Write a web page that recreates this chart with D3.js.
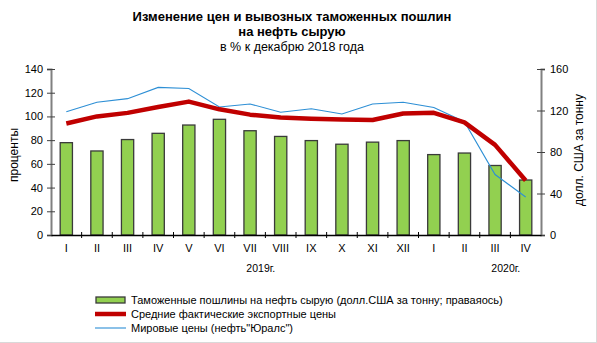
<!DOCTYPE html>
<html>
<head>
<meta charset="utf-8">
<script src="https://cdn.jsdelivr.net/npm/d3@7"></script>
<style>
  html, body { margin: 0; padding: 0; background: #fff; }
  svg { display: block; font-family: "Liberation Sans", Arial, sans-serif; }
</style>
</head>
<body>
<svg id="chart" width="597" height="343"></svg>
<script>
// Month labels (Jan 2019 – Apr 2020)
const months = ["I","II","III","IV","V","VI","VII","VIII","IX","X","XI","XII","I","II","III","IV"];
// Export duties, USD per tonne (right axis)
const duties = [89, 81, 92, 98, 106, 111.5, 100.5, 95, 91, 87.5, 89.5, 91, 77.5, 79, 67, 53];
// Average actual export prices, % of Dec 2018 (left axis)
const exportPrices = [94, 100, 103, 108, 112.5, 106, 101.5, 99, 98, 97.5, 97, 102.5, 103, 95, 76, 46];
// World prices (Urals), % of Dec 2018 (left axis)
const uralsPrices = [104, 112, 115, 124.5, 123.5, 108, 110.5, 103.5, 106.5, 102, 110.5, 112, 107.5, 95.5, 51, 32];
const leftTicks = [0, 20, 40, 60, 80, 100, 120, 140];
const rightTicks = [0, 40, 80, 120, 160];
const years = [{label: "2019г.", at: 6.85}, {label: "2020г.", at: 14.85}];

const svg = d3.select("#chart");
const plotLeft = 51, plotRight = 541, plotTop = 69, plotBottom = 235;

const x = d3.scaleBand().domain(d3.range(months.length)).range([plotLeft, plotRight])
  .paddingInner(0.6).paddingOuter(0.3);
const step = x.step();
const cx = i => x(i) + x.bandwidth() / 2;
const yL = d3.scaleLinear().domain([0, 140]).range([plotBottom, plotTop]);
const yR = d3.scaleLinear().domain([0, 160]).range([plotBottom, plotTop]);

// faint frame on right and bottom edges
svg.append("line").attr("x1", 596.5).attr("x2", 596.5).attr("y1", 0).attr("y2", 343)
  .attr("stroke", "#d9d9d9");
svg.append("line").attr("x1", 0).attr("x2", 597).attr("y1", 342.5).attr("y2", 342.5)
  .attr("stroke", "#d9d9d9");

// Title
const title = svg.append("text").attr("text-anchor", "middle").attr("fill", "#000");
title.append("tspan").attr("x", 292).attr("y", 21).attr("font-weight", "bold").attr("font-size", 13)
  .text("Изменение цен и вывозных таможенных пошлин");
title.append("tspan").attr("x", 292).attr("y", 36).attr("font-weight", "bold").attr("font-size", 13)
  .text("на нефть сырую");
title.append("tspan").attr("x", 292).attr("y", 51).attr("font-size", 12.5)
  .text("в % к декабрю 2018 года");

// Bars (right axis)
svg.append("g").selectAll("rect").data(duties).join("rect")
  .attr("x", (d, i) => x(i))
  .attr("y", d => yR(d))
  .attr("width", x.bandwidth())
  .attr("height", d => plotBottom - yR(d))
  .attr("fill", "#92d050")
  .attr("stroke", "#3a3a3a")
  .attr("stroke-width", 1.3);

// Lines (left axis)
const line = d3.line().x((d, i) => cx(i)).y(d => yL(d));
svg.append("path").datum(uralsPrices).attr("d", line)
  .attr("fill", "none").attr("stroke", "#2d8fd5").attr("stroke-width", 1.1);
svg.append("path").datum(exportPrices).attr("d", line)
  .attr("fill", "none").attr("stroke", "#c00000").attr("stroke-width", 4.5)
  .attr("stroke-linejoin", "round");

// Left axis
const axL = svg.append("g").attr("transform", `translate(${plotLeft},0)`)
  .call(d3.axisLeft(yL).tickValues(leftTicks).tickSize(4).tickPadding(4));
axL.select(".domain").attr("stroke", "#808080").attr("stroke-width", 2);
axL.selectAll(".tick line").attr("x2", -4).attr("x1", 4).attr("stroke", "#404040");
axL.selectAll("text").attr("font-size", 11).attr("font-family", "Liberation Sans, Arial, sans-serif")
  .attr("fill", "#000");

// Right axis
const axR = svg.append("g").attr("transform", `translate(${plotRight},0)`)
  .call(d3.axisRight(yR).tickValues(rightTicks).tickSize(4).tickPadding(5));
axR.select(".domain").attr("stroke", "#808080").attr("stroke-width", 2);
axR.selectAll(".tick line").attr("x1", -4).attr("x2", 4).attr("stroke", "#404040");
axR.selectAll("text").attr("font-size", 11).attr("font-family", "Liberation Sans, Arial, sans-serif")
  .attr("fill", "#000");

// Category axis
const axX = svg.append("g").attr("transform", `translate(0,${plotBottom})`)
  .call(d3.axisBottom(x).tickFormat(i => months[i]).tickSize(0).tickPadding(9));
axX.select(".domain").attr("stroke", "#000").attr("stroke-width", 1.5);
axX.selectAll("text").attr("font-size", 11).attr("font-family", "Liberation Sans, Arial, sans-serif")
  .attr("fill", "#000");
// boundary ticks between categories
svg.append("g").selectAll("line").data(d3.range(1, months.length)).join("line")
  .attr("x1", i => x(i) - step * 0.3).attr("x2", i => x(i) - step * 0.3)
  .attr("y1", plotBottom - 3).attr("y2", plotBottom + 3)
  .attr("stroke", "#000").attr("stroke-width", 1);

// Year labels
svg.append("g").selectAll("text").data(years).join("text")
  .attr("x", d => plotLeft + step * d.at).attr("y", 272)
  .attr("text-anchor", "middle").attr("font-size", 10.5).text(d => d.label);

// Axis titles
svg.append("text").attr("transform", "translate(18,155) rotate(-90)")
  .attr("text-anchor", "middle").attr("font-size", 12).text("проценты");
svg.append("text").attr("transform", "translate(583,150) rotate(-90)")
  .attr("text-anchor", "middle").attr("font-size", 12).text("долл. США за тонну");

// Legend
const legend = svg.append("g").attr("font-size", 11);
legend.append("rect").attr("x", 96).attr("y", 297).attr("width", 29).attr("height", 6)
  .attr("fill", "#92d050").attr("stroke", "#3a3a3a").attr("stroke-width", 1.3);
legend.append("text").attr("x", 131).attr("y", 304)
  .text("Таможенные пошлины на нефть сырую (долл.США за тонну; праваяось)");
legend.append("line").attr("x1", 95).attr("x2", 126).attr("y1", 314).attr("y2", 314)
  .attr("stroke", "#c00000").attr("stroke-width", 4.5);
legend.append("text").attr("x", 131).attr("y", 318)
  .text("Средние  фактические экспортные цены");
legend.append("line").attr("x1", 95).attr("x2", 126).attr("y1", 328).attr("y2", 328)
  .attr("stroke", "#2d8fd5").attr("stroke-width", 1.1);
legend.append("text").attr("x", 131).attr("y", 332)
  .text("Мировые цены (нефть\"Юралс\")");
</script>
</body>
</html>
